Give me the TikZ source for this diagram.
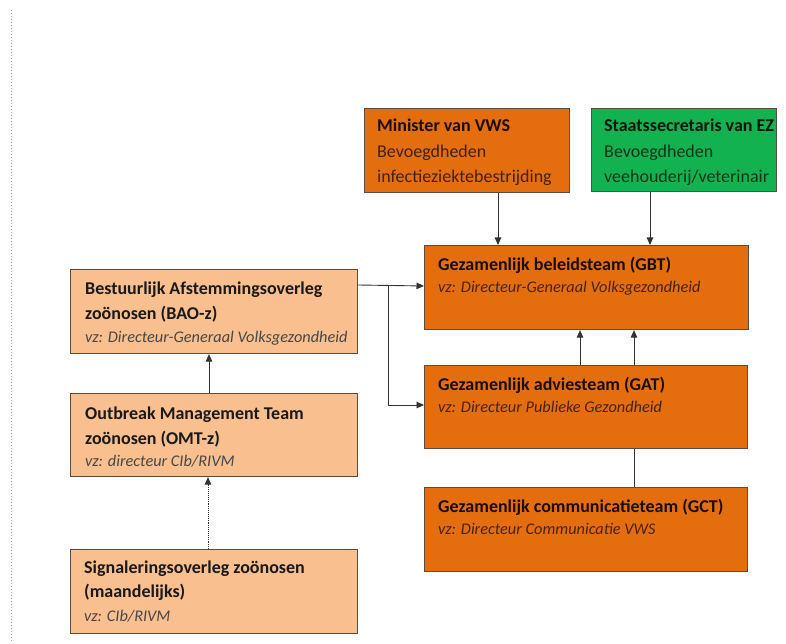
\documentclass[tikz,border=0pt]{standalone}
\usepackage{fontspec}
\setmainfont{Carlito}
\usetikzlibrary{arrows.meta}
\definecolor{dorange}{RGB}{228,110,14}
\definecolor{lorange}{RGB}{250,191,143}
\definecolor{egreen}{RGB}{18,178,80}
\definecolor{edge}{RGB}{95,75,62}
\tikzset{
  x=1pt,y=1pt,
  box/.style={draw=edge,line width=1.1pt,inner sep=0pt,anchor=north west},
  dbox/.style={box,fill=dorange},
  lbox/.style={box,fill=lorange},
  gbox/.style={box,fill=egreen},
  tl/.style={anchor=base west,inner sep=0pt,text=black!88!dorange,font=\fontsize{18}{22}\selectfont\bfseries},
  pl/.style={anchor=base west,inner sep=0pt,font=\fontsize{18}{22}\selectfont},
  vzo/.style={anchor=base west,inner sep=0pt,text=black!68!dorange,font=\fontsize{16.3}{20}\selectfont\itshape},
  vzl/.style={vzo,text=black!72},
  conn/.style={line width=0.9pt,draw=black!80},
  arr/.style={conn,-{Triangle[length=7.5pt,width=6.5pt]}},
}
\begin{document}
\begin{tikzpicture}
\useasboundingbox (0,0) rectangle (786,643);
\fill[white] (0,0) rectangle (786,643);
% left dotted margin line
\draw[gray!70,line width=1pt,dotted] (11,633) -- (11,0);
% boxes (y = 643 - py)
\node[dbox,minimum width=205,minimum height=84] (vws) at (364,535) {};
\node[gbox,minimum width=185,minimum height=83] (ez) at (591,535) {};
\node[dbox,minimum width=324,minimum height=84] (gbt) at (424,398) {};
\node[dbox,minimum width=323,minimum height=83] (gat) at (424,278) {};
\node[dbox,minimum width=323,minimum height=84] (gct) at (424,156) {};
\node[lbox,minimum width=287,minimum height=84] (bao) at (70,374) {};
\node[lbox,minimum width=287,minimum height=83] (omt) at (70,250) {};
\node[lbox,minimum width=287,minimum height=84] (sig) at (70,94) {};
% texts (baselines)
\node[tl] (vws1) at (377,511) {Minister van VWS};
\node[pl,text=black!70!dorange] (vws2) at (377,485) {Bevoegdheden};
\node[pl,text=black!70!dorange] (vws3) at (377,460) {infectieziektebestrijding};
\node[tl,text=black!88!egreen] (ez1) at (604,511) {Staatssecretaris van EZ};
\node[pl,text=black!70!egreen] (ez2) at (604,485) {Bevoegdheden};
\node[pl,text=black!70!egreen] (ez3) at (604,460) {veehouderij/veterinair};
\node[tl] (gbt1) at (438,372) {Gezamenlijk beleidsteam (GBT)};
\node[vzo] (gbt2) at (438,350) {vz: Directeur-Generaal Volksgezondheid};
\node[tl] (gat1) at (438,253) {Gezamenlijk adviesteam (GAT)};
\node[vzo] (gat2) at (438,231) {vz: Directeur Publieke Gezondheid};
\node[tl] (gct1) at (438,131) {Gezamenlijk communicatieteam (GCT)};
\node[vzo] (gct2) at (438,109) {vz: Directeur Communicatie VWS};
\node[tl,text=black!90] (bao1) at (85,348) {Bestuurlijk Afstemmingsoverleg};
\node[tl,text=black!90] (bao2) at (85,323) {zoönosen (BAO-z)};
\node[vzl] (bao3) at (85,301) {vz: Directeur-Generaal Volksgezondheid};
\node[tl,text=black!90] (omt1) at (85,224) {Outbreak Management Team};
\node[tl,text=black!90] (omt2) at (85,199) {zoönosen (OMT-z)};
\node[vzl] (omt3) at (85,177) {vz: directeur CIb/RIVM};
\node[tl,text=black!90] (sig1) at (84,70) {Signaleringsoverleg zoönosen};
\node[tl,text=black!90] (sig2) at (84,46) {(maandelijks)};
\node[vzl] (sig3) at (84,22) {vz: CIb/RIVM};
% connectors
\draw[arr] (vws.south -| 498,0) -- (gbt.north -| 498,0);
\draw[arr] (ez.south -| 650,0) -- (gbt.north -| 650,0);
\coordinate (br) at (388,358);
\draw[arr] (bao.east |- 0,358) -- (gbt.west |- 0,357);
\draw[arr] (br) -- (388,238) -- (gat.west |- 0,238);
\draw[arr] (gat.north -| 580,0) -- (gbt.south -| 580,0);
\draw[arr] (gat.north -| 634,0) -- (gbt.south -| 634,0);
\draw[conn] (gat.south -| 634,0) -- (gct.north -| 634,0);
\draw[arr] (omt.north -| 209,0) -- (bao.south -| 209,0);
\draw[arr,densely dotted] (sig.north -| 208,0) -- (omt.south -| 208,0);
\end{tikzpicture}
\end{document}
